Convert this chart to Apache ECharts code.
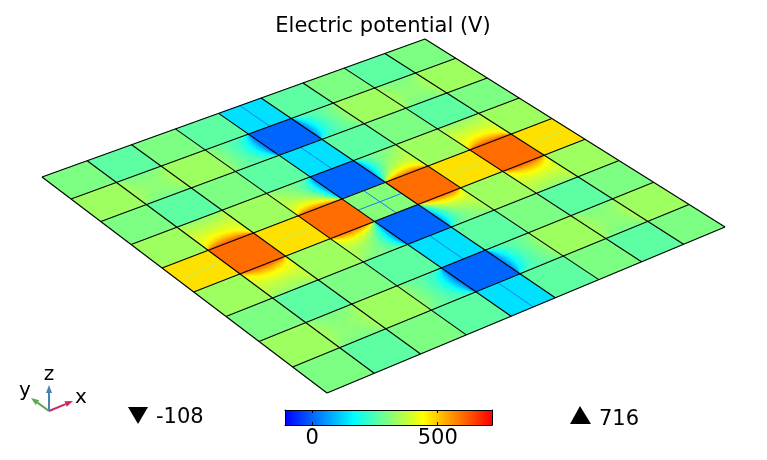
<!DOCTYPE html>
<html><head><meta charset="utf-8">
<style>html,body{margin:0;padding:0;background:#fff}#c{width:767px;height:460px}</style>
<script src="https://cdn.jsdelivr.net/npm/echarts@6/dist/echarts.min.js"></script>
</head><body><div id="c"></div>
<script>
// ---- data ----
const titleText = 'Electric potential (V)';
const minValue = -108;
const maxValue = 716;
const colorbarTicks = [0, 500];
const axisNames = ['x', 'y', 'z'];
// Potential of each cell, one array per row (V)
const row0 = [300, 267, 300, 267, 134, 267, 300, 267, 300];
const row1 = [337, 267, 337, 267,   0, 267, 337, 267, 337];
const row2 = [300, 267, 300, 267, 134, 267, 300, 267, 300];
const row3 = [337, 267, 337, 267,   0, 267, 337, 267, 337];
const row4 = [474, 600, 474, 600, 310, 600, 474, 600, 474];
const row5 = [337, 267, 337, 267,   0, 267, 337, 267, 337];
const row6 = [300, 267, 300, 267, 134, 267, 300, 267, 300];
const row7 = [337, 267, 337, 267,   0, 267, 337, 267, 337];
const row8 = [300, 267, 300, 267, 134, 267, 300, 267, 300];
const rows = [row0,row1,row2,row3,row4,row5,row6,row7,row8];
const brightLevel = 337;   // the yellow-green cells that bleed into their neighbours
// Thin wires: [u0, v0, u1, v1, colour]
const wires = [
 [4.5,0,4.5,1,'#1f7cf5'],[4.5,2,4.5,3,'#1f7cf5'],[4.5,6,4.5,7,'#1f7cf5'],[4.5,8,4.5,9,'#1f7cf5'],
 [4.5,4,4.5,5,'#1f7cf5'],[4,4.5,5,4.5,'#1f7cf5'],
 [0.15,4.5,0.85,4.5,'#b8f05a'],[2.15,4.5,2.85,4.5,'#b8f05a'],[6.15,4.5,6.85,4.5,'#b8f05a'],[8.15,4.5,8.85,4.5,'#b8f05a']
];

// ---- colour table (rainbow), same range as the colour bar ----
const stops = [[0,[0,0,255]],[1/3,[0,255,255]],[2/3,[255,255,0]],[1,[255,0,0]]];
function ramp(v){
  const f = Math.max(0,Math.min(1,(v-minValue)/(maxValue-minValue)));
  for(let k=1;k<stops.length;k++){
    if(f<=stops[k][0]){
      const t=(f-stops[k-1][0])/(stops[k][0]-stops[k-1][0]);
      const a=stops[k-1][1],b=stops[k][1];
      return 'rgb('+[0,1,2].map(n=>Math.round(a[n]+(b[n]-a[n])*t)).join(',')+')';
    }
  }
  return 'rgb(255,0,0)';
}

// ---- oblique view: unit square to the plate's outline on screen ----
const W=767,H=460;
const view=[[42,177],[425,39],[725,227],[327,393]];
const H3=(function(){
  const [p0,p1,p2,p3]=view;
  const dx1=p1[0]-p2[0],dx2=p3[0]-p2[0],sx=p0[0]-p1[0]+p2[0]-p3[0];
  const dy1=p1[1]-p2[1],dy2=p3[1]-p2[1],sy=p0[1]-p1[1]+p2[1]-p3[1];
  const den=dx1*dy2-dx2*dy1;
  const g=(sx*dy2-dx2*sy)/den,h=(dx1*sy-sx*dy1)/den;
  return {a:p1[0]-p0[0]+g*p1[0],b:p3[0]-p0[0]+h*p3[0],c:p0[0],
          d:p1[1]-p0[1]+g*p1[1],e:p3[1]-p0[1]+h*p3[1],f:p0[1],g,h};
})();
function project(api,u,v){
  const p=api.coord([u,v]);
  const s=p[0]/W,t=p[1]/H,m=H3;
  const w=m.g*s+m.h*t+1;
  return [(m.a*s+m.b*t+m.c)/w,(m.d*s+m.e*t+m.f)/w];
}

// ---- shading inside a cell ----
const isPlate=v=>v<=50||v>=550;
const SUB=22, SHARP_HIGH=2.0, SHARP_LOW=2.6, FAINT=1.5;
function arc(a,d){ // share of the view taken by a neighbour's edge, seen from (a,d)
  return (Math.atan2(a,d)+Math.atan2(1-a,d))/Math.PI;
}
function sources(i,j){
  const out=[];
  if(i%2===0||j%2===0) return out;   // only the odd-odd cells carry a gradient
  const base=rows[j][i];
  [['w',-1,0],['e',1,0],['n',0,-1],['s',0,1]].forEach(([side,di,dj])=>{
    const r=rows[j+dj],n=r&&r[i+di];
    if(n===undefined) return;
    if(isPlate(n)) out.push({side,delta:n-base,p:n>base?SHARP_HIGH:SHARP_LOW});
    else if(n===brightLevel) out.push({side,delta:n-base,p:FAINT});
  });
  return out;
}
function field(base,src,s,t){
  let v=base;
  src.forEach(o=>{
    const a=(o.side==='w'||o.side==='e')?t:s;
    const d=o.side==='w'?s:o.side==='e'?1-s:o.side==='n'?t:1-t;
    v+=o.delta*Math.pow(arc(a,Math.max(d,1e-4)),o.p);
  });
  return v;
}

const cellData=[];
rows.forEach((r,j)=>r.forEach((v,i)=>cellData.push([i,j,v])));
const lineIndex=[0,1,2,3,4,5,6,7,8,9];

function renderCell(params,api){
  const i=api.value(0),j=api.value(1),v=api.value(2);
  const src=sources(i,j);
  const n=src.length?SUB:1;
  const children=[];
  for(let a=0;a<n;a++)for(let b=0;b<n;b++){
    const s0=a/n,s1=(a+1)/n,t0=b/n,t1=(b+1)/n;
    const col=ramp(field(v,src,(s0+s1)/2,(t0+t1)/2));
    children.push({type:'polygon',shape:{points:[
      project(api,i+s0,j+t0),project(api,i+s1,j+t0),project(api,i+s1,j+t1),project(api,i+s0,j+t1)]},
      style:{fill:col,stroke:col,lineWidth:0.6},silent:true});
  }
  return {type:'group',children};
}
function renderGrid(params,api){
  const k=api.value(0);
  const ln=(a,b)=>({type:'line',shape:{x1:a[0],y1:a[1],x2:b[0],y2:b[1]},style:{stroke:'#000',lineWidth:1.1},silent:true});
  return {type:'group',children:[
    ln(project(api,k,0),project(api,k,9)),
    ln(project(api,0,k),project(api,9,k))]};
}
function renderWire(params,api){
  const a=project(api,api.value(0),api.value(1)),b=project(api,api.value(2),api.value(3));
  const w=wires[params.dataIndex];
  return {type:'line',shape:{x1:a[0],y1:a[1],x2:b[0],y2:b[1]},style:{stroke:w[4],lineWidth:1},silent:true};
}
function renderBar(params,api){
  const a=api.coord([api.value(0),0]),b=api.coord([api.value(1),1]);
  return {type:'rect',shape:{x:a[0],y:b[1],width:b[0]-a[0],height:a[1]-b[1]},
    style:{fill:new echarts.graphic.LinearGradient(0,0,1,0,
      stops.map(q=>({offset:q[0],color:'rgb('+q[1].join(',')+')'})))},silent:true};
}

const FONT='"DejaVu Sans"';
const chart=echarts.init(document.getElementById('c'),null,{renderer:'canvas'});
const hidden={show:false};
const tri=(pts)=>({type:'polygon',shape:{points:pts},style:{fill:'#000'},silent:true});
const txt=(x,y,t,size)=>({type:'text',x,y,silent:true,style:{text:t,fill:'#000',font:size+'px '+FONT,textAlign:'center',textVerticalAlign:'middle'}});
const arrow=(x0,y0,x1,y1,col)=>{
  const dx=x1-x0,dy=y1-y0,L=Math.hypot(dx,dy),ux=dx/L,uy=dy/L,hl=8,hw=3;
  return [
    {type:'line',shape:{x1:x0,y1:y0,x2:x1-ux*hl,y2:y1-uy*hl},style:{stroke:col,lineWidth:2},silent:true},
    {type:'polygon',shape:{points:[[x1,y1],[x1-ux*hl-uy*hw,y1-uy*hl+ux*hw],[x1-ux*hl+uy*hw,y1-uy*hl-ux*hw]]},style:{fill:col},silent:true}
  ];
};
chart.setOption({
  animation:false,
  backgroundColor:'#fff',
  title:{text:titleText,left:378,top:11,textAlign:'center',textStyle:{fontFamily:FONT,fontSize:21,fontWeight:'normal',color:'#000'}},
  grid:[
    {left:0,top:0,width:W,height:H},
    {left:285,top:410,width:207,height:15}
  ],
  xAxis:[
    {gridIndex:0,type:'value',min:0,max:9,show:false},
    {gridIndex:1,type:'value',min:minValue,max:maxValue,position:'bottom',
      axisLine:{show:true,onZero:false,lineStyle:{color:'#000',width:1}},
      axisTick:{show:true,inside:true,length:3,customValues:colorbarTicks,lineStyle:{color:'#000'}},
      axisLabel:{show:true,customValues:colorbarTicks,margin:3,fontFamily:FONT,fontSize:21,color:'#000'},
      splitLine:hidden},
    {gridIndex:1,type:'value',min:minValue,max:maxValue,position:'top',
      axisLine:{show:true,onZero:false,lineStyle:{color:'#000',width:1}},
      axisTick:{show:true,inside:true,length:3,customValues:colorbarTicks,lineStyle:{color:'#000'}},
      axisLabel:hidden,splitLine:hidden}
  ],
  yAxis:[
    {gridIndex:0,type:'value',min:0,max:9,inverse:true,show:false},
    {gridIndex:1,type:'value',min:0,max:1,position:'left',
      axisLine:{show:true,onZero:false,lineStyle:{color:'#000',width:1}},axisTick:hidden,axisLabel:hidden,splitLine:hidden},
    {gridIndex:1,type:'value',min:0,max:1,position:'right',
      axisLine:{show:true,onZero:false,lineStyle:{color:'#000',width:1}},axisTick:hidden,axisLabel:hidden,splitLine:hidden}
  ],
  series:[
    {type:'custom',xAxisIndex:0,yAxisIndex:0,clip:false,silent:true,data:cellData,encode:{x:0,y:1},renderItem:renderCell,z:2},
    {type:'custom',xAxisIndex:0,yAxisIndex:0,clip:false,silent:true,data:wires.map(w=>w.slice(0,4)),encode:{x:0,y:1},renderItem:renderWire,z:3},
    {type:'custom',xAxisIndex:0,yAxisIndex:0,clip:false,silent:true,data:lineIndex.map(k=>[k]),encode:{x:0},renderItem:renderGrid,z:4},
    {type:'custom',xAxisIndex:1,yAxisIndex:1,silent:true,data:[[minValue,maxValue]],encode:{x:[0,1]},renderItem:renderBar,z:-1}
  ],
  graphic:{elements:[
    tri([[128,407],[148,407],[138,424]]),
    {type:'text',x:156,y:418,silent:true,style:{text:String(minValue),fill:'#000',font:'21px '+FONT,textVerticalAlign:'middle'}},
    tri([[570,424],[591,424],[580,406]]),
    {type:'text',x:599,y:420,silent:true,style:{text:String(maxValue),fill:'#000',font:'21px '+FONT,textVerticalAlign:'middle'}},
    ...arrow(49,411,73,401,'#d4245f'),
    ...arrow(49,411,31,398,'#58a84e'),
    ...arrow(49,411,49,385,'#4682b4'),
    txt(81,398,axisNames[0],20),
    txt(25,391,axisNames[1],20),
    txt(49,375,axisNames[2],20)
  ]}
});
</script></body></html>
